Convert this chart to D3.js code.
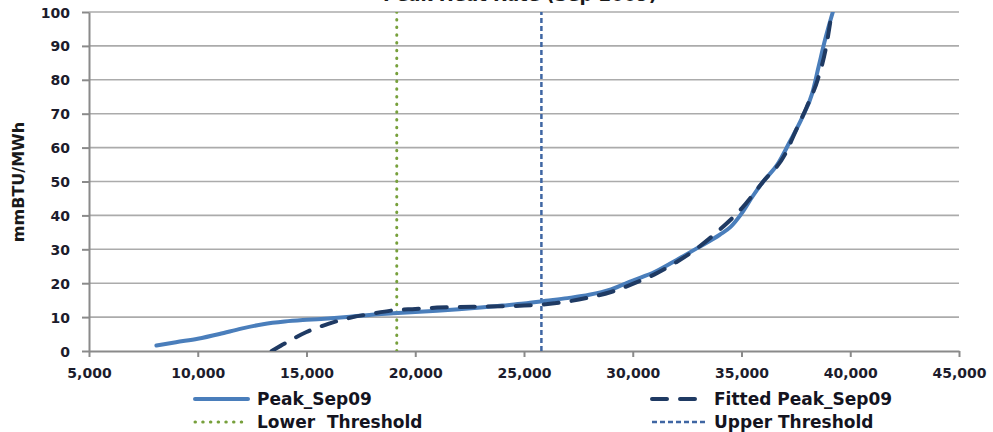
<!DOCTYPE html>
<html>
<head>
<meta charset="utf-8">
<script src="https://cdn.jsdelivr.net/npm/d3@7"></script>
<style>
  body { margin: 0; background: #fff; }
  text { font-family: "DejaVu Sans", sans-serif; }
  .tick text { font-weight: bold; font-size: 14px; fill: #1c1c2c; }
  .legend-label { font-weight: bold; font-size: 17px; fill: #14141f; white-space: pre; }
</style>
</head>
<body>
<svg id="chart"></svg>
<script>
// Peak_Sep09 curve (load MW, heat rate mmBTU/MWh)
const peakX = [8100, 9000, 10000, 11000, 12000, 13000, 14000, 15000, 16000, 17000, 18000, 19000,
  20000, 21000, 22000, 23000, 24000, 25000, 26000, 27000, 28000, 29000, 30000, 31000, 32000,
  33000, 34000, 34500, 35000, 35500, 36000, 36700, 37200, 37800, 38250, 38550, 38850, 39200];
const peakY = [1.6, 2.6, 3.6, 5.0, 6.6, 7.9, 8.7, 9.2, 9.6, 10.1, 10.7, 11.1,
  11.5, 11.9, 12.3, 12.8, 13.4, 14.0, 14.8, 15.6, 16.6, 18.2, 20.8, 23.3, 26.8,
  30.5, 34.3, 36.6, 40.5, 45.5, 50, 55.5, 61.5, 69, 76, 84, 92, 100];

// Fitted Peak_Sep09 curve
const fittedX = [13400, 14000, 15000, 16000, 17000, 18000, 19000, 20000, 21000, 22000, 23000,
  24000, 25000, 26000, 27000, 28000, 29000, 30000, 31000, 32000, 33000, 34000, 35000, 36000,
  37000, 37500, 38000, 38500, 38900, 39150];
const fittedY = [0, 2.2, 5.6, 8.0, 9.8, 11.0, 12.0, 12.4, 12.8, 13.0, 13.1,
  13.2, 13.4, 13.8, 14.6, 15.8, 17.4, 19.8, 22.6, 26.2, 30.5, 35.8, 42, 50,
  58, 65, 72, 80, 90, 100];

// thresholds (MW)
const lowerThreshold = 19150;
const upperThreshold = 25800;

const xTicks = [5000, 10000, 15000, 20000, 25000, 30000, 35000, 40000, 45000];
const yTicks = [0, 10, 20, 30, 40, 50, 60, 70, 80, 90, 100];

const legendItems = [
  {label: 'Peak_Sep09', key: 'peak', col: 0, row: 0},
  {label: 'Fitted Peak_Sep09', key: 'fitted', col: 1, row: 0},
  {label: 'Lower  Threshold', key: 'lower', col: 0, row: 1},
  {label: 'Upper Threshold', key: 'upper', col: 1, row: 1}
];

class HeatRateChart {

  constructor(_config) {
    this.config = {
      parentElement: _config.parentElement,
      containerWidth: _config.containerWidth || 993,
      containerHeight: _config.containerHeight || 432,
      margin: _config.margin || {top: 12, right: 34, bottom: 81, left: 89}
    };
    this.styles = {
      peak: {stroke: '#4a7ebb', width: 4, dash: null, cap: 'round'},
      fitted: {stroke: '#1f3a63', width: 4, dash: '15,13', cap: 'round'},
      lower: {stroke: '#77a03c', width: 3, dash: '0.5,7.2', cap: 'round'},
      upper: {stroke: '#3f66a3', width: 2.5, dash: '5,3', cap: 'butt'}
    };
    this.initVis();
  }

  initVis() {
    let vis = this;

    vis.width = vis.config.containerWidth - vis.config.margin.left - vis.config.margin.right;
    vis.height = vis.config.containerHeight - vis.config.margin.top - vis.config.margin.bottom;

    vis.xScale = d3.scaleLinear()
        .domain([5000, 45000])
        .range([0, vis.width]);

    vis.yScale = d3.scaleLinear()
        .domain([0, 100])
        .range([vis.height, 0]);

    vis.xAxis = d3.axisBottom(vis.xScale)
        .tickValues(xTicks)
        .tickSize(6)
        .tickSizeOuter(0)
        .tickPadding(10)
        .tickFormat(d3.format(','));

    vis.yAxis = d3.axisLeft(vis.yScale)
        .tickValues(yTicks)
        .tickSize(7)
        .tickSizeOuter(0)
        .tickPadding(12);

    vis.svg = d3.select(vis.config.parentElement)
        .attr('width', vis.config.containerWidth)
        .attr('height', vis.config.containerHeight);

    // title sits mostly above the visible area, as in the source
    vis.svg.append('text')
        .attr('x', 520)
        .attr('y', 0.5)
        .attr('text-anchor', 'middle')
        .style('font-size', '18px')
        .style('font-weight', 'bold')
        .style('fill', '#1a1a1a')
        .text('Peak Heat Rate (Sep 2009)');

    vis.chart = vis.svg.append('g')
        .attr('transform', `translate(${vis.config.margin.left},${vis.config.margin.top})`);

    vis.svg.append('defs').append('clipPath')
        .attr('id', 'plot-clip')
      .append('rect')
        .attr('x', 0)
        .attr('y', 0)
        .attr('width', vis.width)
        .attr('height', vis.height);

    vis.gridG = vis.chart.append('g').attr('class', 'grid');

    vis.xAxisG = vis.chart.append('g')
        .attr('class', 'axis x-axis')
        .attr('transform', `translate(0,${vis.height})`);

    vis.yAxisG = vis.chart.append('g')
        .attr('class', 'axis y-axis');

    vis.linesG = vis.chart.append('g')
        .attr('clip-path', 'url(#plot-clip)');

    vis.svg.append('text')
        .attr('transform', `translate(24,182) rotate(-90)`)
        .attr('text-anchor', 'middle')
        .style('font-size', '16px')
        .style('font-weight', 'bold')
        .style('fill', '#1a1a1a')
        .text('mmBTU/MWh');

    vis.legendG = vis.svg.append('g').attr('class', 'legend');
  }

  updateVis() {
    let vis = this;

    vis.peakData = peakX.map((x, i) => ({x: x, y: peakY[i]}));
    vis.fittedData = fittedX.map((x, i) => ({x: x, y: fittedY[i]}));
    vis.thresholds = [
      {key: 'lower', value: lowerThreshold},
      {key: 'upper', value: upperThreshold}
    ];

    vis.line = d3.line()
        .x(d => vis.xScale(d.x))
        .y(d => vis.yScale(d.y))
        .curve(d3.curveMonotoneX);

    vis.renderVis();
  }

  renderVis() {
    let vis = this;

    // horizontal gridlines
    vis.gridG.selectAll('.gridline')
        .data(yTicks.filter(d => d > 0))
      .join('line')
        .attr('class', 'gridline')
        .attr('x1', 0)
        .attr('x2', vis.width)
        .attr('y1', d => vis.yScale(d))
        .attr('y2', d => vis.yScale(d))
        .attr('stroke', '#ababab')
        .attr('stroke-width', 1.6);

    vis.xAxisG.call(vis.xAxis);
    vis.yAxisG.call(vis.yAxis);

    vis.chart.selectAll('.axis path, .axis line')
        .attr('stroke', '#8a8a8a')
        .attr('stroke-width', 2);
    vis.xAxisG.selectAll('.tick text').attr('dy', '0.75em');
    vis.yAxisG.selectAll('.tick text').attr('dy', '0.36em');

    // threshold lines
    vis.linesG.selectAll('.threshold')
        .data(vis.thresholds)
      .join('line')
        .attr('class', 'threshold')
        .attr('x1', d => vis.xScale(d.value))
        .attr('x2', d => vis.xScale(d.value))
        .attr('y1', vis.yScale(0))
        .attr('y2', vis.yScale(100))
        .attr('stroke', d => vis.styles[d.key].stroke)
        .attr('stroke-width', d => vis.styles[d.key].width)
        .attr('stroke-dasharray', d => vis.styles[d.key].dash)
        .attr('stroke-linecap', d => vis.styles[d.key].cap);

    const series = [
      {key: 'peak', data: vis.peakData},
      {key: 'fitted', data: vis.fittedData}
    ];

    vis.linesG.selectAll('.series')
        .data(series)
      .join('path')
        .attr('class', 'series')
        .attr('d', d => vis.line(d.data))
        .attr('fill', 'none')
        .attr('stroke', d => vis.styles[d.key].stroke)
        .attr('stroke-width', d => vis.styles[d.key].width)
        .attr('stroke-dasharray', d => vis.styles[d.key].dash)
        .attr('stroke-linecap', d => vis.styles[d.key].cap)
        .attr('stroke-linejoin', 'round');

    // legend, two columns by two rows
    const colX = [193, 650];
    const rowY = [399, 422];

    const items = vis.legendG.selectAll('.legend-item')
        .data(legendItems)
      .join('g')
        .attr('class', 'legend-item')
        .attr('transform', d => `translate(${colX[d.col]},${rowY[d.row]})`);

    items.append('line')
        .attr('x1', 2)
        .attr('x2', d => d.key === 'upper' ? 57 : 55)
        .attr('y1', 0)
        .attr('y2', 0)
        .attr('stroke', d => vis.styles[d.key].stroke)
        .attr('stroke-width', d => vis.styles[d.key].width)
        .attr('stroke-dasharray', d => vis.styles[d.key].dash)
        .attr('stroke-linecap', d => vis.styles[d.key].cap);

    items.append('text')
        .attr('class', 'legend-label')
        .attr('x', 64)
        .attr('y', 6)
        .text(d => d.label);
  }
}

const chart = new HeatRateChart({parentElement: '#chart'});
chart.updateVis();
</script>
</body>
</html>
